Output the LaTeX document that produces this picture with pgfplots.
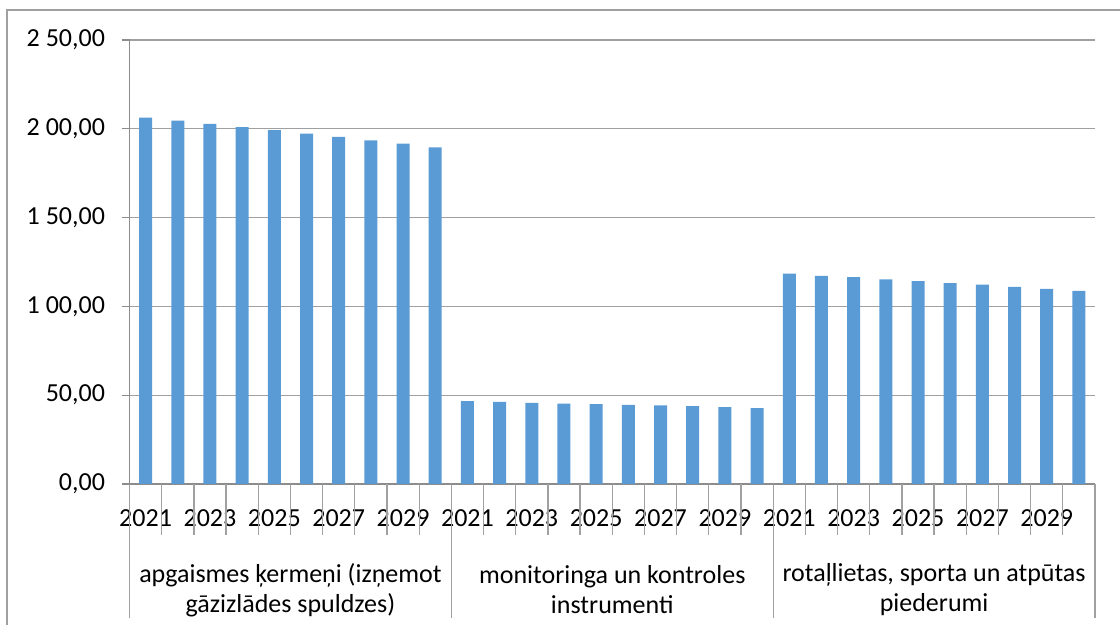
\documentclass[border=0pt]{standalone}
\usepackage{pgfplots}
\pgfplotsset{compat=1.18}
\usepackage{fontspec}
\setmainfont{Carlito}
\definecolor{barblue}{HTML}{5B9BD5}
\definecolor{gridg}{HTML}{A0A0A0}
\definecolor{axg}{HTML}{8C8C8C}
\begin{document}
\begin{tikzpicture}[x=1bp,y=1bp]
\useasboundingbox (0,0) rectangle (1120,625);
\draw[gridg, line width=1.2bp] (7,-5) -- (7,615) -- (1125,615);
\begin{axis}[
  at={(129.5bp,141bp)}, anchor=south west,
  scale only axis, width=965.5bp, height=444bp,
  xmin=0.5, xmax=30.5, ymin=0, ymax=250,
  axis x line*=bottom, axis y line*=left,
  axis line style={axg, line width=1.3bp},
  ybar, bar width=13bp,
  ymajorgrids, grid style={gridg, line width=1.3bp},
  ytick={0,50,100,150,200,250},
  yticklabels={{0,00},{50,00},{1 00,00},{1 50,00},{2 00,00},{2 50,00}},
  tick align=outside, major tick length=8bp,
  y tick style={axg, line width=1.3bp},
  xtick={1,3,5,7,9,11,13,15,17,19,21,23,25,27,29},
  xticklabels={2021,2023,2025,2027,2029,2021,2023,2025,2027,2029,2021,2023,2025,2027,2029},
  x tick style={draw=none},
  tick label style={font=\fontsize{26bp}{30bp}\selectfont, text=black},
  xticklabel style={anchor=center, yshift=-26bp},
  yticklabel style={anchor=east, xshift=-13bp},
  extra x ticks={5.5,15.5,25.5},
  extra x tick labels={{apgaismes ķermeņi (izņemot\\gāzizlādes spuldzes)},{monitoringa un kontroles\\instrumenti},{rotaļlietas, sporta un atpūtas\\piederumi}},
  extra x tick style={x tick style={draw=none}, xticklabel style={align=center, yshift=-72bp}},
  clip=false,
]
\addplot[fill=barblue, draw=none] coordinates {
(1,206.3) (2,204.6) (3,202.7) (4,201.0) (5,199.2) (6,197.3) (7,195.4) (8,193.5) (9,191.6) (10,189.6)
(11,46.6) (12,46.2) (13,45.7) (14,45.3) (15,44.9) (16,44.5) (17,44.2) (18,43.8) (19,43.3) (20,42.7)
(21,118.4) (22,117.2) (23,116.5) (24,115.2) (25,114.2) (26,113.1) (27,112.2) (28,111.0) (29,109.9) (30,108.8)
};
\pgfplotsinvokeforeach{0,...,30}{
  \draw[gridg, line width=1.3bp] (axis cs:#1+0.5,0) -- ([yshift=-51bp]axis cs:#1+0.5,0);
}
\pgfplotsinvokeforeach{0,10,20,30}{
  \draw[gridg, line width=1.3bp] (axis cs:#1+0.5,0) -- ([yshift=-134bp]axis cs:#1+0.5,0);
}
\end{axis}
\end{tikzpicture}
\end{document}
